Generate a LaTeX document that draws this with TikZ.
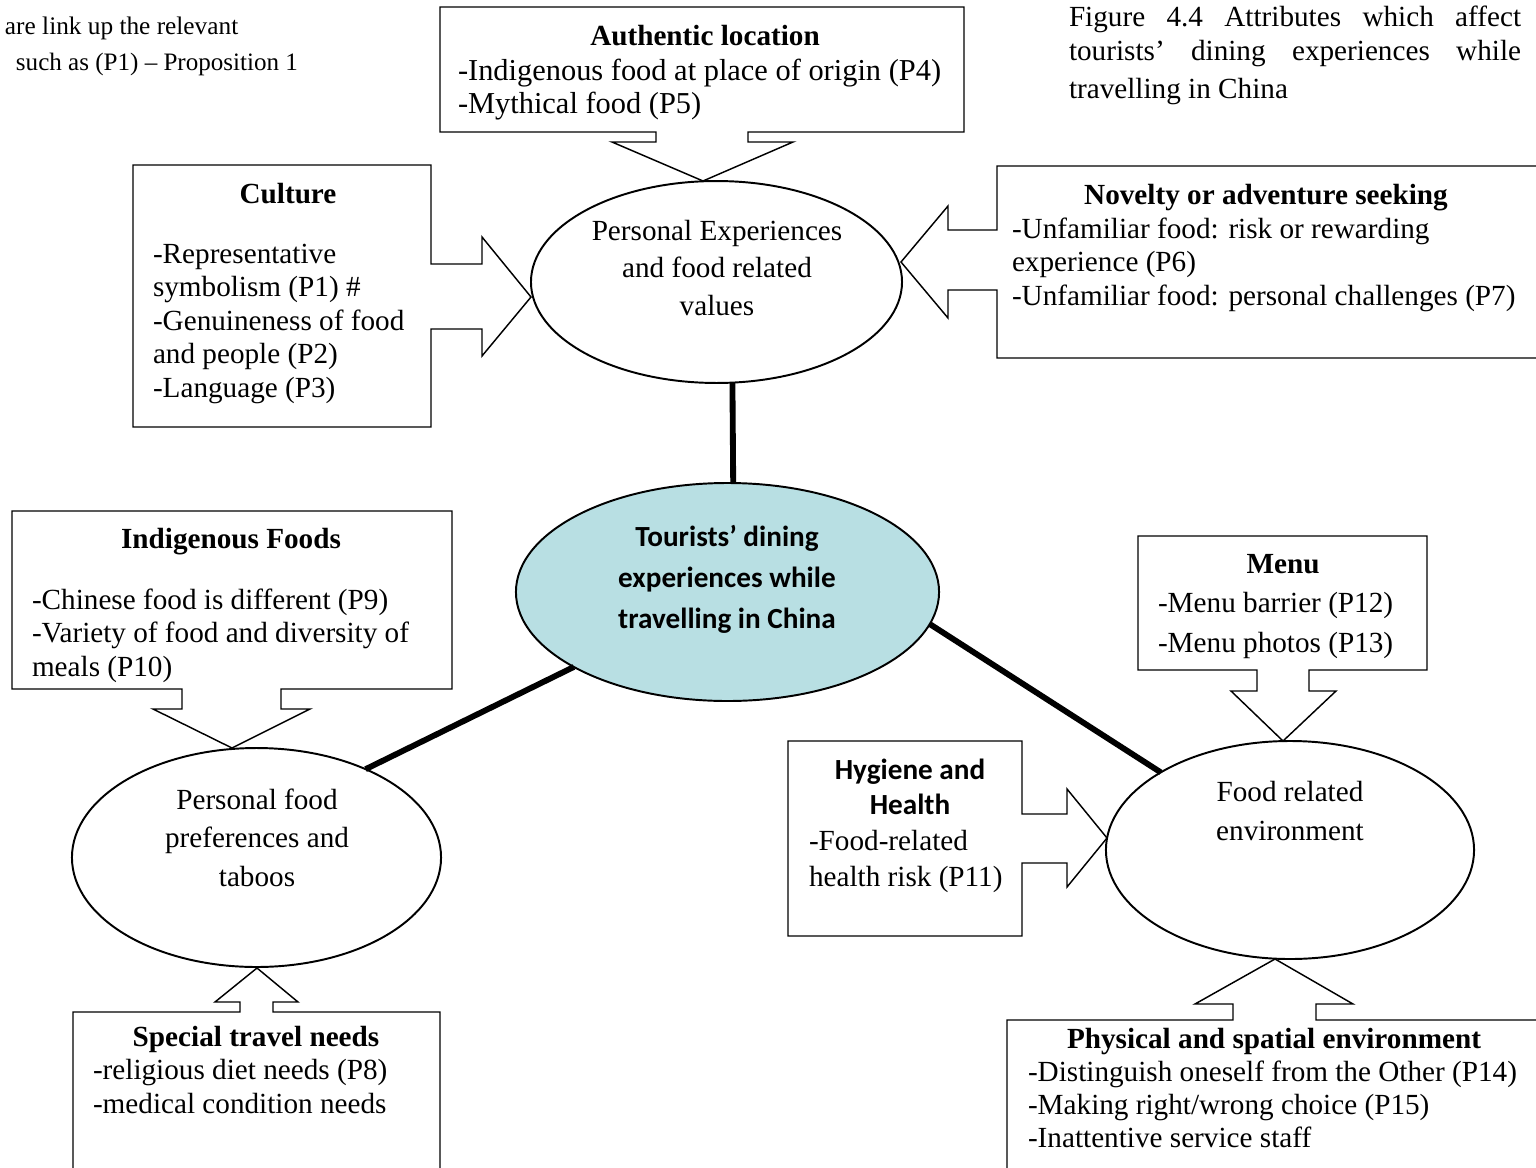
\documentclass[tikz,border=0pt]{standalone}
\usepackage{fontspec}
\setmainfont{Liberation Serif}
\newfontfamily\calibri{Carlito}
\usetikzlibrary{shapes.geometric}
\definecolor{hubfill}{HTML}{B8DFE3}
% stacked lines with a fixed baseline distance; the first line carries the baseline
\newcommand\stackL[2]{\vtop{\baselineskip=#1\relax\lineskiplimit=-20pt\halign{##\hfil\cr#2\crcr}}}
\newcommand\stackC[2]{\vtop{\baselineskip=#1\relax\lineskiplimit=-20pt\halign{\hfil##\hfil\cr#2\crcr}}}
\begin{document}
\begin{tikzpicture}[x=0.411pt, y=-0.411pt,
  font=\fontsize{12}{14}\selectfont,
  callout/.style={draw, line width=0.6pt, line join=miter},
  bubble/.style={ellipse, draw, line width=0.8pt, inner sep=0pt, outer sep=0pt},
  conn/.style={line width=2.4pt},
  txt/.style={inner sep=0pt, outer sep=0pt},
  ttl/.style={txt, anchor=base, font=\fontsize{12}{14}\selectfont\bfseries},
  body/.style={txt, anchor=base west}]
\useasboundingbox (0,0) rectangle (1536,1167);
\clip (0,0) rectangle (1536,1167);

% note and caption
\node[body, font=\fontsize{10.4}{12}\selectfont] (note1) at (5,35) {are link up the relevant};
\node[body, font=\fontsize{10.3}{12}\selectfont] (note2) at (16,70) {such as (P1) – Proposition 1};
\node[body] (cap1) at (1069,26) {\makebox[185.8pt][s]{Figure 4.4 Attributes which affect}};
\node[body] (cap2) at (1069,61) {\makebox[185.8pt][s]{tourists’ dining experiences while}};
\node[body] (cap3) at (1069,98) {travelling in China};

% ellipses
\node[bubble, minimum width=152.5pt, minimum height=83pt] (pe) at (716.5,282) {};
\node[bubble, fill=hubfill, minimum width=173.9pt, minimum height=89.6pt] (tdc) at (727.5,592) {};
\node[bubble, minimum width=151.7pt, minimum height=90pt] (pf) at (256.5,857.5) {};
\node[bubble, minimum width=151.3pt, minimum height=89.6pt] (fr) at (1290,850) {};

\node[txt, anchor=base] (peT) at (717,240) {\stackC{15.6pt}{Personal Experiences\cr and food related\cr values}};
\node[txt, anchor=base] (tdcT) at (727,546) {\calibri\bfseries\stackC{17pt}{Tourists’ dining\cr experiences while\cr travelling in China}};
\node[txt, anchor=base] (pfT) at (257,809) {\stackC{16pt}{Personal food\cr preferences and\cr taboos}};
\node[txt, anchor=base] (frT) at (1290,801) {\stackC{16.4pt}{Food related\cr environment}};

% links to the central theme
\draw[conn] (pe.-81.3) -- (tdc.87.6);
\draw[conn] (tdc.-154.9) -- (pf.39.5);
\draw[conn] (tdc.-9.9) -- (fr.149.2);

% Authentic location
\draw[callout] (656,132) -- (440,132) -- (440,7) -- (964,7) -- (964,132) -- (748,132) -- (748,142) -- (793,142) -- (703,181) -- (612,142) -- (656,142) -- cycle;
\node[ttl] (authT) at (705,45) {Authentic location};
\node[body, font=\fontsize{12.5}{14}\selectfont] (authB) at (458,80) {\stackL{13.6pt}{-Indigenous food at place of origin (P4)\cr -Mythical food (P5)}};

% Culture
\draw[callout] (431,264) -- (431,165) -- (133,165) -- (133,427) -- (431,427) -- (431,329) -- (482,329) -- (482,356) -- (531,297) -- (482,237) -- (482,264) -- cycle;
\node[ttl] (cultT) at (288,203) {Culture};
\node[body] (cultB) at (153,263) {\stackL{13.8pt}{-Representative\cr symbolism (P1) \#\cr -Genuineness of food\cr and people (P2)\cr -Language (P3)}};

% Novelty or adventure seeking
\draw[callout] (997,230) -- (997,166) -- (1545,166) -- (1545,358) -- (997,358) -- (997,290) -- (948,290) -- (948,318) -- (901,262) -- (948,206) -- (948,230) -- cycle;
\node[ttl] (novT) at (1266,204) {Novelty or adventure seeking};
\node[body] (novB) at (1012,238) {\stackL{13.8pt}{-Unfamiliar food: risk or rewarding\cr experience (P6)\cr -Unfamiliar food: personal challenges (P7)}};

% Indigenous Foods
\draw[callout] (182,689) -- (12,689) -- (12,511) -- (452,511) -- (452,689) -- (281,689) -- (281,709) -- (310,709) -- (232,748) -- (153,709) -- (182,709) -- cycle;
\node[ttl] (indT) at (231,548) {Indigenous Foods};
\node[body] (indB) at (32,609) {\stackL{13.8pt}{-Chinese food is different (P9)\cr -Variety of food and diversity of\cr meals (P10)}};

% Special travel needs
\draw[callout] (240,1012) -- (73,1012) -- (73,1175) -- (440,1175) -- (440,1012) -- (273,1012) -- (273,1002) -- (298,1002) -- (257,968) -- (215,1002) -- (240,1002) -- cycle;
\node[ttl] (spcT) at (256,1046) {Special travel needs};
\node[body] (spcB) at (93,1079) {\stackL{14.2pt}{-religious diet needs (P8)\cr -medical condition needs}};

% Hygiene and Health
\draw[callout] (1022,814) -- (1022,741) -- (788,741) -- (788,936) -- (1022,936) -- (1022,863) -- (1067,863) -- (1067,887) -- (1107,838) -- (1067,789) -- (1067,814) -- cycle;
\node[txt, anchor=base] (hygT) at (910,779) {\calibri\bfseries\stackC{14.4pt}{Hygiene and\cr Health}};
\node[body] (hygB) at (809,850) {\stackL{14.8pt}{-Food-related\cr health risk (P11)}};

% Menu
\draw[callout] (1257,670) -- (1138,670) -- (1138,536) -- (1427,536) -- (1427,670) -- (1309,670) -- (1309,691) -- (1336,691) -- (1283,741) -- (1231,691) -- (1257,691) -- cycle;
\node[ttl] (menT) at (1283,573) {Menu};
\node[body] (menB) at (1158,612) {\stackL{16.5pt}{-Menu barrier (P12)\cr -Menu photos (P13)}};

% Physical and spatial environment
\draw[callout] (1233,1020) -- (1007,1020) -- (1007,1175) -- (1545,1175) -- (1545,1020) -- (1316,1020) -- (1316,1004) -- (1353,1004) -- (1275,959) -- (1195,1004) -- (1233,1004) -- cycle;
\node[ttl] (phyT) at (1274,1048) {Physical and spatial environment};
\node[body] (phyB) at (1028,1081) {\stackL{13.6pt}{-Distinguish oneself from the Other (P14)\cr -Making right/wrong choice (P15)\cr -Inattentive service staff}};
\end{tikzpicture}
\end{document}
